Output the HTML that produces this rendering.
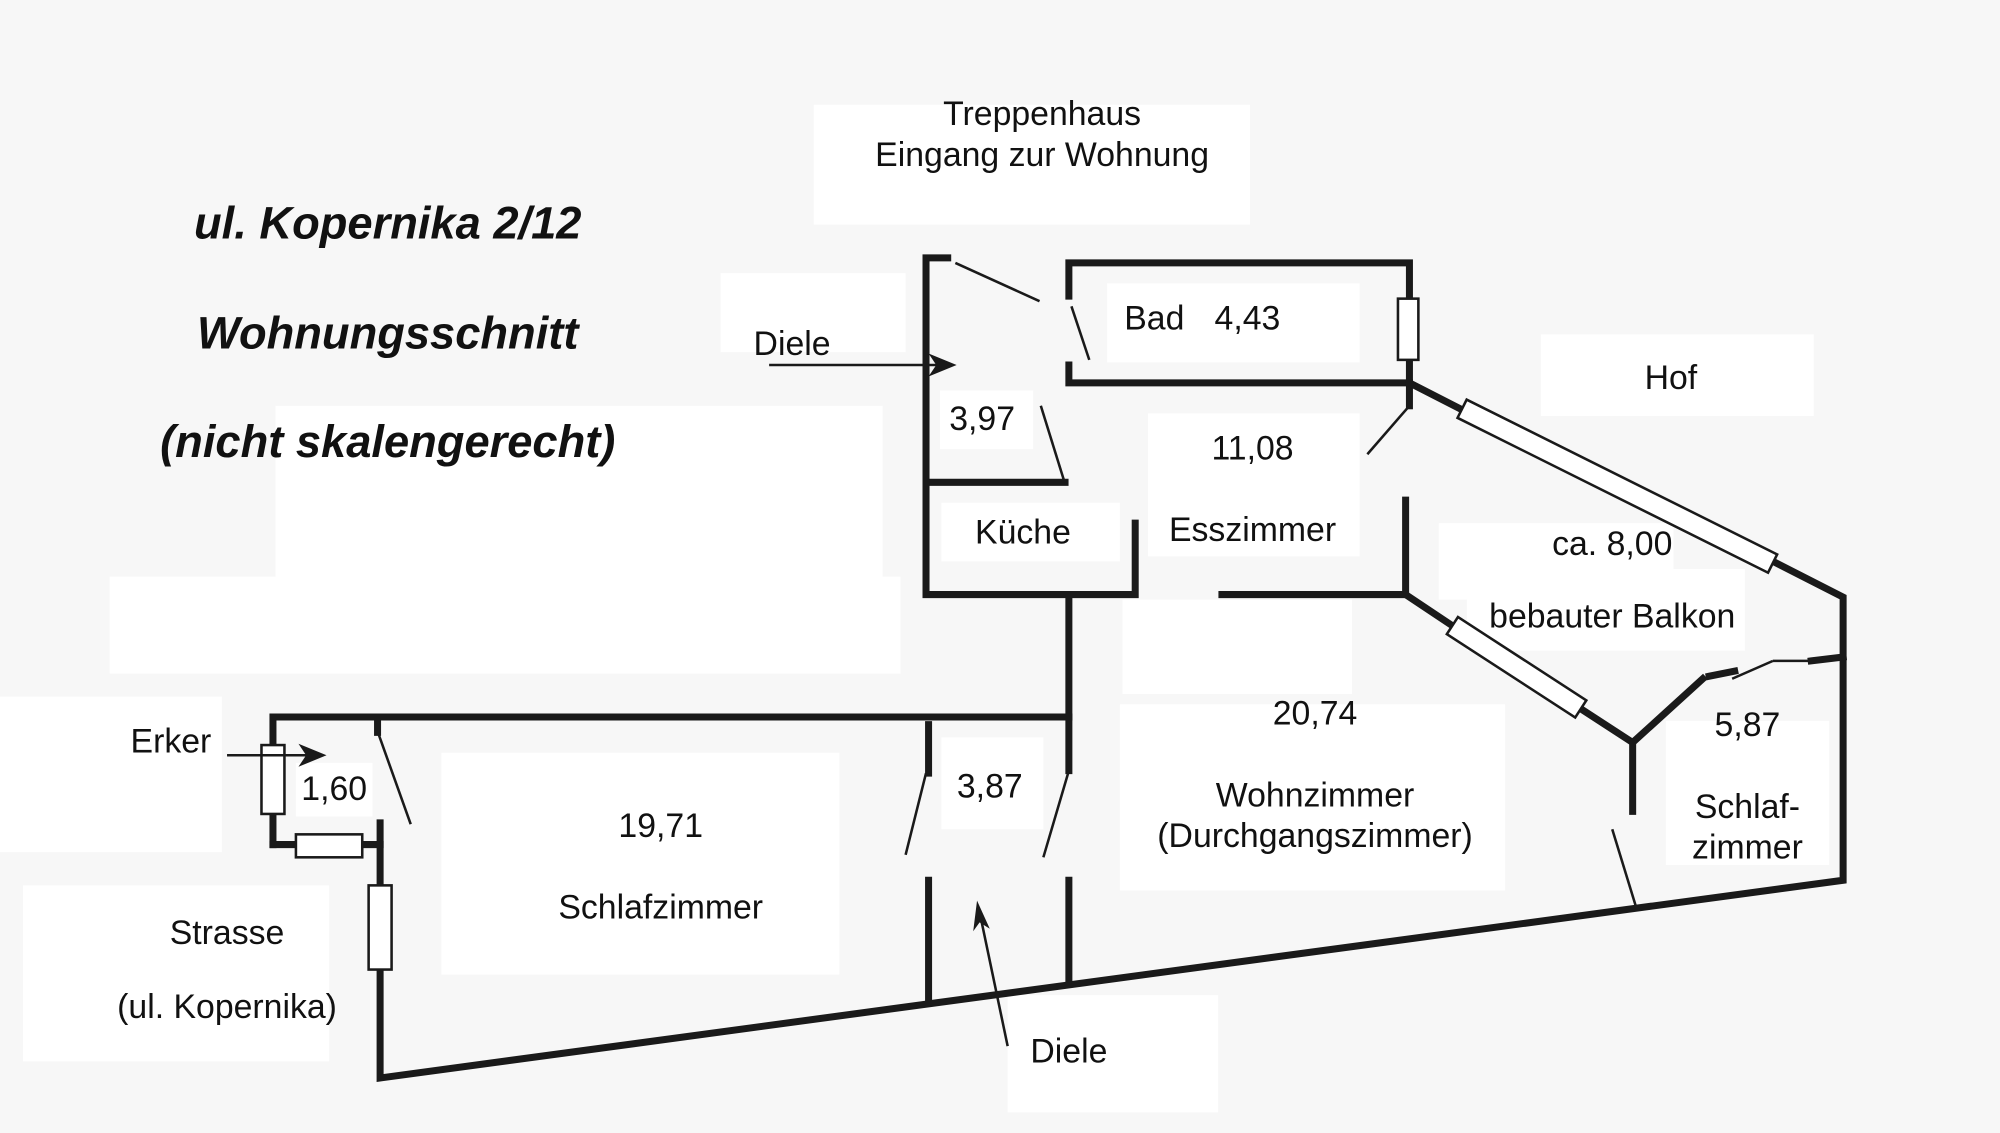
<!DOCTYPE html>
<html><head><meta charset="utf-8"><style>
html,body{margin:0;padding:0;background:#f7f7f7;}
svg{display:block}
text{font-family:"Liberation Sans",sans-serif;fill:#111;}
</style></head><body>
<svg width="2000" height="1133" viewBox="0 0 1568 888" xmlns="http://www.w3.org/2000/svg">
<rect width="1568" height="888" fill="#f7f7f7"/>
<g fill="#fff">
<rect x="638" y="82" width="342" height="94"/>
<rect x="565" y="214" width="145" height="62"/>
<rect x="868" y="222" width="198" height="62"/>
<rect x="1208" y="262" width="214" height="64"/>
<rect x="737" y="306" width="73" height="46"/>
<rect x="900" y="324" width="166" height="112"/>
<rect x="738" y="394" width="140" height="46"/>
<rect x="1128" y="410" width="184" height="60"/>
<rect x="1150" y="446" width="218" height="64"/>
<rect x="216" y="318" width="476" height="136"/>
<rect x="86" y="452" width="620" height="76"/>
<rect x="880" y="470" width="180" height="74"/>
<rect x="0" y="546" width="174" height="122"/>
<rect x="232" y="598" width="60" height="42"/>
<rect x="346" y="590" width="312" height="174"/>
<rect x="738" y="578" width="80" height="72"/>
<rect x="878" y="552" width="302" height="146"/>
<rect x="1306" y="565" width="128" height="113"/>
<rect x="18" y="694" width="240" height="138"/>
<rect x="790" y="780" width="165" height="92"/>
</g>
<g stroke="#1a1a1a" stroke-width="5.5" fill="none" stroke-linecap="square">
<polyline points="743,202 726,202 726,466 890,466 890,410"/>
<line x1="731" y1="378" x2="835" y2="378"/>
<polyline points="838,232 838,206 1105,206 1105,234"/>
<polyline points="838,286 838,300 1105,300 1105,282"/>
<line x1="1105" y1="300" x2="1105" y2="318"/>
<line x1="838" y1="470" x2="838" y2="604"/>
<polyline points="296,574 296,562 838,562"/>
<polyline points="214,584 214,562 296,562"/>
<line x1="214" y1="638" x2="214" y2="662"/>
<line x1="214" y1="662" x2="232" y2="662"/>
<line x1="284" y1="662" x2="298" y2="662"/>
<line x1="298" y1="645" x2="298" y2="694"/>
<polyline points="298,760 298,845 1445,690 1445,468 1390,440"/>
<line x1="1105" y1="300" x2="1148" y2="322"/>
<line x1="728" y1="568" x2="728" y2="606"/>
<line x1="728" y1="690" x2="728" y2="782"/>
<line x1="838" y1="690" x2="838" y2="768"/>
<line x1="1102" y1="392" x2="1102" y2="464"/>
<line x1="958" y1="466" x2="1100" y2="466"/>
<line x1="1102" y1="466" x2="1138" y2="490"/>
<line x1="1240" y1="556" x2="1280" y2="582"/>
<line x1="1280" y1="582" x2="1335" y2="532"/>
<line x1="1340" y1="530" x2="1360" y2="526"/>
<line x1="1280" y1="585" x2="1280" y2="636"/>
<line x1="1420" y1="518" x2="1445" y2="515"/>
</g>
<g stroke="#1a1a1a" stroke-width="2" fill="none">
<line x1="749" y1="206" x2="815" y2="236"/>
<line x1="840" y1="240" x2="854" y2="282"/>
<line x1="816" y1="318" x2="834" y2="376"/>
<line x1="1105" y1="318" x2="1072" y2="356"/>
<line x1="297" y1="576" x2="322" y2="646"/>
<line x1="726" y1="606" x2="710" y2="670"/>
<line x1="838" y1="604" x2="818" y2="672"/>
<line x1="1264" y1="650" x2="1283" y2="712"/>
<line x1="1390" y1="518" x2="1420" y2="518"/><line x1="1390" y1="518" x2="1358" y2="532"/>
<rect x="1096" y="234" width="16" height="48" fill="#fff"/>
<rect x="205" y="584" width="18" height="54" fill="#fff"/>
<rect x="232" y="654" width="52" height="18" fill="#fff"/>
<rect x="289" y="694" width="18" height="66" fill="#fff"/>
<g transform="translate(1268,381) rotate(26.5)"><rect x="-136" y="-8" width="272" height="16" fill="#fff"/></g>
<g transform="translate(1189,523) rotate(33)"><rect x="-60" y="-8" width="120" height="16" fill="#fff"/></g>
<line x1="603" y1="286" x2="740" y2="286"/>
<line x1="178" y1="592" x2="245" y2="592"/>
<line x1="790" y1="820" x2="768" y2="715"/>
</g>
<g fill="#1a1a1a">
<polygon points="750,286 728,277 734,286 728,295"/>
<polygon points="256,592 234,583 240,592 234,601"/>
<polygon points="766,706 763,730 768,723 776,728"/>
</g>
<g font-size="26.5" text-anchor="middle">
<text x="817" y="98">Treppenhaus</text>
<text x="817" y="130">Eingang zur Wohnung</text>
<text x="621" y="278">Diele</text>
<text x="905" y="258">Bad</text>
<text x="978" y="258">4,43</text>
<text x="1310" y="305">Hof</text>
<text x="770" y="337">3,97</text>
<text x="982" y="360">11,08</text>
<text x="982" y="424">Esszimmer</text>
<text x="802" y="426">Küche</text>
<text x="1264" y="435">ca. 8,00</text>
<text x="1264" y="492">bebauter Balkon</text>
<text x="134" y="590">Erker</text>
<text x="262" y="627">1,60</text>
<text x="518" y="656">19,71</text>
<text x="518" y="720">Schlafzimmer</text>
<text x="776" y="625">3,87</text>
<text x="1031" y="568">20,74</text>
<text x="1031" y="632">Wohnzimmer</text>
<text x="1031" y="664">(Durchgangszimmer)</text>
<text x="1370" y="577">5,87</text>
<text x="1370" y="641">Schlaf-</text>
<text x="1370" y="673">zimmer</text>
<text x="178" y="740">Strasse</text>
<text x="178" y="798">(ul. Kopernika)</text>
<text x="838" y="833">Diele</text>
</g>
<g font-size="35.5" font-weight="bold" font-style="italic" text-anchor="middle">
<text x="304" y="187">ul. Kopernika 2/12</text>
<text x="304" y="273">Wohnungsschnitt</text>
<text x="304" y="358">(nicht skalengerecht)</text>
</g>
</svg>
</body></html>
